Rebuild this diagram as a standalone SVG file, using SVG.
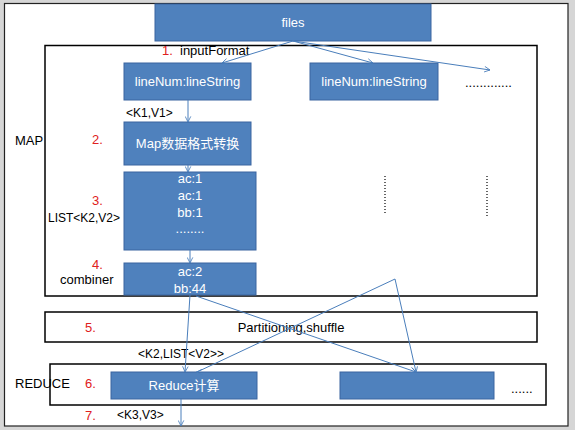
<svg xmlns="http://www.w3.org/2000/svg" width="575" height="430" viewBox="0 0 575 430">
<defs>
<marker id="ah" viewBox="0 0 10 10" refX="9" refY="5" markerWidth="7" markerHeight="7" orient="auto-start-reverse" markerUnits="userSpaceOnUse">
<path d="M1,1 L9,5 L1,9" fill="none" stroke="#4a7ebb" stroke-width="1.2"/>
</marker>
<style>
.box{fill:#4f81bd;stroke:#3a64a0;stroke-width:1}
.frame{fill:none;stroke:#000;stroke-width:1.5}
.wt{font-family:"Liberation Sans","Noto Sans CJK SC",sans-serif;font-size:13px;fill:#fff;text-anchor:middle}
.bt{font-family:"Liberation Sans","Noto Sans CJK SC",sans-serif;font-size:13px;fill:#000}
.st{font-family:"Liberation Sans",sans-serif;font-size:12px;fill:#000}
.rt{font-family:"Liberation Sans",sans-serif;font-size:13px;fill:#e02020}
.cn{fill:none;stroke:#4a7ebb;stroke-width:1}
.dot{fill:none;stroke:#000;stroke-width:1.2;stroke-dasharray:1 2}
</style>
</defs>
<rect x="0" y="0" width="575" height="430" fill="#d6d6d6"/>
<rect x="4.5" y="3.5" width="563.5" height="422.5" fill="#fff" stroke="#222" stroke-width="1.2"/>

<g id="map-frame"><rect class="frame" x="45" y="45.5" width="492" height="250.5"/></g>
<g id="partition-frame"><rect class="frame" x="45" y="312" width="492" height="30"/></g>
<g id="reduce-frame"><rect class="frame" x="50" y="364" width="496" height="41"/></g>

<g id="files"><rect class="box" x="155" y="4" width="276" height="37"/><text class="wt" x="293" y="27">files</text></g>
<g id="line1"><rect class="box" x="124" y="63" width="127" height="37"/><text class="wt" x="187.5" y="86">lineNum:lineString</text></g>
<g id="line2"><rect class="box" x="310" y="63" width="128" height="37"/><text class="wt" x="374" y="86">lineNum:lineString</text></g>
<g id="map"><rect class="box" x="124" y="122" width="127" height="43"/><text class="wt" x="187.5" y="148">Map数据格式转换</text></g>
<g id="list"><rect class="box" x="124" y="172" width="132" height="78"/>
<text class="wt" x="190" y="183">ac:1</text><text class="wt" x="190" y="200">ac:1</text><text class="wt" x="190" y="217">bb:1</text><text class="wt" x="190" y="233">........</text></g>
<g id="combiner"><rect class="box" x="124" y="263" width="132" height="32"/>
<text class="wt" x="190" y="276">ac:2</text><text class="wt" x="190" y="293">bb:44</text></g>
<g id="reduce1"><rect class="box" x="111" y="372" width="146" height="27"/><text class="wt" x="184" y="390">Reduce计算</text></g>
<g id="reduce2"><rect class="box" x="340" y="372" width="154" height="27"/></g>

<g id="labels">
<text class="rt" x="162" y="55">1.</text>
<text class="bt" x="180" y="55">inputFormat</text>
<text class="bt" x="465" y="87">.............</text>
<text class="st" x="126" y="117">&lt;K1,V1&gt;</text>
<text class="bt" x="15" y="145">MAP</text>
<text class="rt" x="92" y="144">2.</text>
<text class="rt" x="92" y="205">3.</text>
<text class="st" x="48" y="222">LIST&lt;K2,V2&gt;</text>
<text class="rt" x="92" y="269">4.</text>
<text class="bt" x="60" y="284">combiner</text>
<text class="rt" x="85" y="332">5.</text>
<text class="bt" x="291" y="332" text-anchor="middle">Partitioning,shuffle</text>
<text class="st" x="138" y="358">&lt;K2,LIST&lt;V2&gt;&gt;</text>
<text class="bt" x="15" y="388">REDUCE</text>
<text class="rt" x="85" y="388">6.</text>
<text class="bt" x="511" y="393">......</text>
<text class="rt" x="85" y="420">7.</text>
<text class="st" x="117" y="419">&lt;K3,V3&gt;</text>
</g>

<g id="connectors">
<line class="cn" x1="293" y1="41" x2="222" y2="63" marker-end="url(#ah)"/>
<line class="cn" x1="293" y1="41" x2="373" y2="63" marker-end="url(#ah)"/>
<line class="cn" x1="293" y1="41" x2="490" y2="70" marker-end="url(#ah)"/>
<line class="cn" x1="188" y1="100" x2="188" y2="122" marker-end="url(#ah)"/>
<line class="cn" x1="188" y1="165" x2="188" y2="172" marker-end="url(#ah)"/>
<line class="cn" x1="190" y1="250" x2="190" y2="263" marker-end="url(#ah)"/>
<line class="cn" x1="190" y1="295" x2="185" y2="372" marker-end="url(#ah)"/>
<line class="cn" x1="196" y1="296" x2="416" y2="372" marker-end="url(#ah)"/>
<polyline class="cn" points="197,372 395,279 416,372"/>
<line class="cn" x1="197" y1="372" x2="196.5" y2="372" marker-end="url(#ah)"/>
<line class="cn" x1="416" y1="372" x2="416.1" y2="372.4" marker-end="url(#ah)"/>
<line class="cn" x1="181" y1="399" x2="181" y2="426" marker-end="url(#ah)"/>
<line class="dot" x1="385" y1="176" x2="385" y2="213"/>
<line class="dot" x1="487" y1="176" x2="487" y2="216"/>
</g>
</svg>
